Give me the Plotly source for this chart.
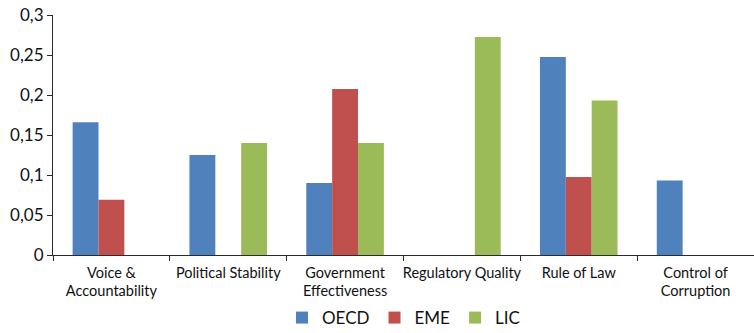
import plotly.graph_objects as go

categories = ["Voice &<br>Accountability", "Political Stability", "Government<br>Effectiveness",
              "Regulatory Quality", "Rule of Law", "Control of<br>Corruption"]
oecd = [0.166, 0.125, 0.09, None, 0.2475, 0.093]
eme = [0.069, None, 0.2075, None, 0.0975, None]
lic = [None, 0.14, 0.14, 0.2725, 0.193, None]

y_ticks = [0, 0.05, 0.1, 0.15, 0.2, 0.25, 0.3]
y_tick_text = ["0", "0,05", "0,1", "0,15", "0,2", "0,25", "0,3"]

font_family = "Lato, 'Open Sans', sans-serif"
axis_color = "#2b2b2b"

fig = go.Figure()
for name, vals, color in [("OECD", oecd, "#4F81BD"), ("EME", eme, "#C0504D"), ("LIC", lic, "#9BBB59")]:
    fig.add_trace(go.Bar(x=categories, y=vals, name=name, marker=dict(color=color, line_width=0)))

fig.update_layout(
    width=754, height=333,
    margin=dict(l=53, r=0, t=15, b=78, autoexpand=False),
    paper_bgcolor="white", plot_bgcolor="white",
    barmode="group", bargap=0.336, bargroupgap=0,
    font=dict(family=font_family, color="#111111", size=14),
    showlegend=True,
    legend=dict(orientation="h", x=0.5, xanchor="center", yref="container", y=0.045,
                yanchor="middle", font=dict(size=17), itemwidth=30, traceorder="normal"),
    xaxis=dict(showline=True, linecolor=axis_color, linewidth=1.2, ticks="outside",
               tickson="boundaries", ticklen=5, tickcolor=axis_color, showgrid=False,
               tickfont=dict(size=14.5), tickangle=0, automargin=False,
               ticklabelstandoff=4),
    yaxis=dict(range=[0, 0.3], tickvals=y_ticks, ticktext=y_tick_text, showline=True,
               linecolor=axis_color, linewidth=1.2, ticks="outside", ticklen=5,
               tickcolor=axis_color, showgrid=False, zeroline=False,
               tickfont=dict(size=17), automargin=False),
)

fig.write_html("out.html")
